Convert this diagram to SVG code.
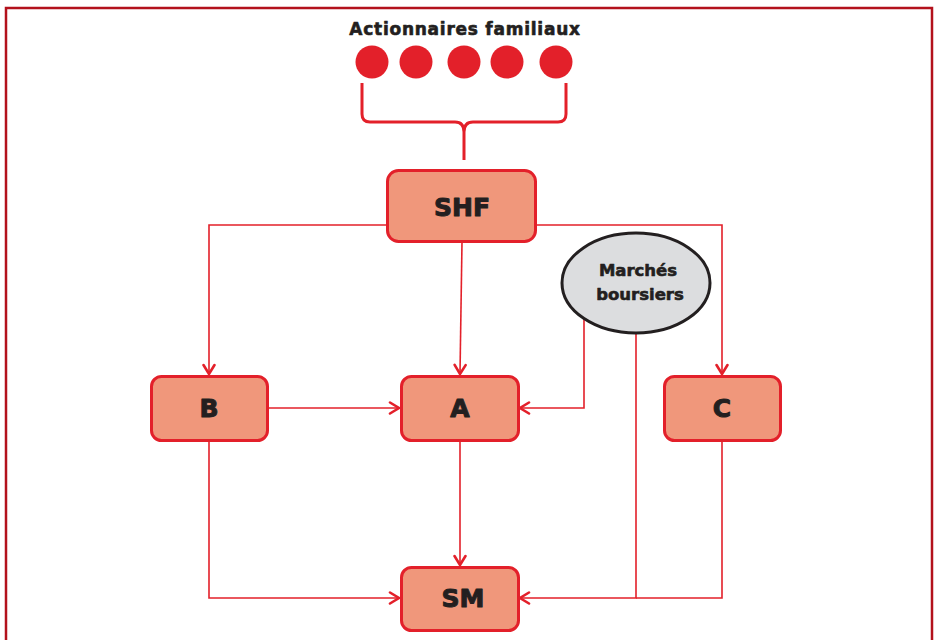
<svg xmlns="http://www.w3.org/2000/svg" width="936" height="640" viewBox="0 0 936 640">
  <defs>
    <style>
      .frame { fill: none; stroke: #b3111c; stroke-width: 2.5; }
      .box { fill: #f0977b; stroke: #e3202a; stroke-width: 3; }
      .oval { fill: #dcdddf; stroke: #231f20; stroke-width: 3; }
      .lbl { font-family: "DejaVu Sans", "Liberation Sans", sans-serif; font-weight: bold; fill: #231f20; stroke: #231f20; stroke-linejoin: round; text-anchor: middle; }
      .big { font-size: 25px; stroke-width: 1; }
      .mid { font-size: 16.5px; stroke-width: 0.6; }
      .title { font-size: 17px; stroke-width: 0.6; letter-spacing: 0.75px; }
      .link { fill: none; stroke: #e3202a; stroke-width: 1.6; }
      .brace { fill: none; stroke: #e3202a; stroke-width: 3; stroke-linejoin: round; }
      .dot { fill: #e3202a; }
    </style>
    <marker id="arrow" markerWidth="14" markerHeight="14" refX="11" refY="7" orient="auto" markerUnits="userSpaceOnUse">
      <path d="M2,1.5 L11,7 L2,12.5" fill="none" stroke="#e3202a" stroke-width="2.6" stroke-linecap="round"/>
    </marker>
  </defs>

  <rect class="frame" x="6" y="8" width="926" height="640"/>

  <g id="actionnaires">
    <text class="lbl title" x="465" y="35">Actionnaires familiaux</text>
    <circle class="dot" cx="372" cy="62" r="16.5"/>
    <circle class="dot" cx="416" cy="62" r="16.5"/>
    <circle class="dot" cx="464" cy="62" r="16.5"/>
    <circle class="dot" cx="507" cy="62" r="16.5"/>
    <circle class="dot" cx="556" cy="62" r="16.5"/>
    <path class="brace" d="M362,83 L362,114 Q362,122 370,122 L455,122 Q464,122 464,132 L464,160 M464,132 Q464,122 473,122 L558,122 Q566,122 566,114 L566,83"/>
  </g>

  <g id="connectors">
    <path class="link" d="M387,225 L209,225 L209,374" marker-end="url(#arrow)"/>
    <path class="link" d="M462,242 L460,374" marker-end="url(#arrow)"/>
    <path class="link" d="M536,225 L722,225 L722,374" marker-end="url(#arrow)"/>
    <path class="link" d="M269,408 L399,408" marker-end="url(#arrow)"/>
    <path class="link" d="M584,318 L584,408 L520,408" marker-end="url(#arrow)"/>
    <path class="link" d="M460,441 L460,565" marker-end="url(#arrow)"/>
    <path class="link" d="M209,441 L209,598 L399,598" marker-end="url(#arrow)"/>
    <path class="link" d="M636,334 L636,598 L520,598" marker-end="url(#arrow)"/>
    <path class="link" d="M722,441 L722,598 L636,598"/>
  </g>

  <g id="shf">
    <rect class="box" x="387.5" y="170.5" width="148" height="71" rx="11"/>
    <text class="lbl big" x="462" y="216">SHF</text>
  </g>

  <g id="marches">
    <ellipse class="oval" cx="636" cy="283" rx="74" ry="50"/>
    <text class="lbl mid" x="638" y="276">Marchés</text>
    <text class="lbl mid" x="640" y="300">boursiers</text>
  </g>

  <g id="b">
    <rect class="box" x="151.5" y="376.5" width="116" height="64" rx="10"/>
    <text class="lbl big" x="209" y="417">B</text>
  </g>

  <g id="a">
    <rect class="box" x="401.5" y="376.5" width="117" height="64" rx="10"/>
    <text class="lbl big" x="460" y="417">A</text>
  </g>

  <g id="c">
    <rect class="box" x="664.5" y="376.5" width="116" height="64" rx="10"/>
    <text class="lbl big" x="722" y="417">C</text>
  </g>

  <g id="sm">
    <rect class="box" x="401.5" y="567.5" width="117" height="63" rx="10"/>
    <text class="lbl big" x="463" y="607">SM</text>
  </g>
</svg>
